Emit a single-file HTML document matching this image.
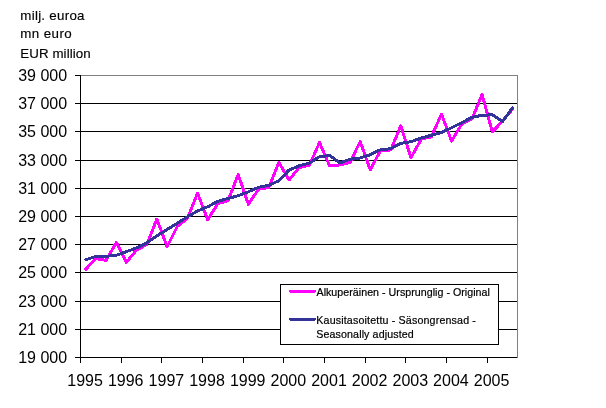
<!DOCTYPE html>
<html><head><meta charset="utf-8"><title>Chart</title>
<style>
html,body{margin:0;padding:0;background:#fff;}
body{width:606px;height:408px;overflow:hidden;}
svg{display:block;}
text{font-family:"Liberation Sans",sans-serif;fill:#000;}
.u{font-size:13.33px;stroke:#000;stroke-width:.15px;}
.a{font-size:16px;}
.l{font-size:10.67px;stroke:#000;stroke-width:.2px;}
</style></head><body>
<svg width="606" height="408" viewBox="0 0 606 408">
<rect width="606" height="408" fill="#fff"/>

<g shape-rendering="crispEdges" fill="none">
<rect x="80.5" y="75.5" width="437" height="282" stroke="#808080" stroke-width="1"/>
<line x1="75" x2="517" y1="103.5" y2="103.5" stroke="#000"/>
<line x1="75" x2="517" y1="131.5" y2="131.5" stroke="#000"/>
<line x1="75" x2="517" y1="160.5" y2="160.5" stroke="#000"/>
<line x1="75" x2="517" y1="188.5" y2="188.5" stroke="#000"/>
<line x1="75" x2="517" y1="216.5" y2="216.5" stroke="#000"/>
<line x1="75" x2="517" y1="244.5" y2="244.5" stroke="#000"/>
<line x1="75" x2="517" y1="272.5" y2="272.5" stroke="#000"/>
<line x1="75" x2="517" y1="301.5" y2="301.5" stroke="#000"/>
<line x1="75" x2="517" y1="329.5" y2="329.5" stroke="#000"/>
<line x1="75" x2="517" y1="357.5" y2="357.5" stroke="#000"/>
<line x1="75" x2="81" y1="75.5" y2="75.5" stroke="#000"/>
<line x1="80.5" x2="80.5" y1="75" y2="363" stroke="#000"/>
<line x1="121.5" x2="121.5" y1="357" y2="363" stroke="#000"/>
<line x1="161.5" x2="161.5" y1="357" y2="363" stroke="#000"/>
<line x1="202.5" x2="202.5" y1="357" y2="363" stroke="#000"/>
<line x1="243.5" x2="243.5" y1="357" y2="363" stroke="#000"/>
<line x1="283.5" x2="283.5" y1="357" y2="363" stroke="#000"/>
<line x1="324.5" x2="324.5" y1="357" y2="363" stroke="#000"/>
<line x1="365.5" x2="365.5" y1="357" y2="363" stroke="#000"/>
<line x1="405.5" x2="405.5" y1="357" y2="363" stroke="#000"/>
<line x1="446.5" x2="446.5" y1="357" y2="363" stroke="#000"/>
<line x1="487.5" x2="487.5" y1="357" y2="363" stroke="#000"/>
</g>
<polyline points="85.8,269.2 95.9,258.7 106.1,260.3 116.3,242.4 126.4,262.3 136.6,250.0 146.8,244.5 156.9,219.0 167.1,246.8 177.2,226.5 187.4,218.5 197.6,193.2 207.7,219.8 217.9,203.5 228.1,200.7 238.2,174.5 248.4,204.3 258.5,189.3 268.7,187.6 278.9,162.3 289.0,180.0 299.2,167.5 309.4,165.3 319.5,142.6 329.7,166.0 339.9,164.9 350.0,162.5 360.2,141.5 370.3,169.9 380.5,150.5 390.7,150.0 400.8,125.9 411.0,157.6 421.2,139.2 431.3,136.8 441.5,114.2 451.6,141.1 461.8,124.0 472.0,119.0 482.1,94.4 492.3,132.0 502.5,121.0 512.6,109.0" fill="none" stroke="#ff00ff" stroke-width="3" stroke-linejoin="round" stroke-linecap="round" shape-rendering="crispEdges"/>
<polyline points="85.8,259.8 95.9,256.3 106.1,256.3 116.3,255.3 126.4,251.7 136.6,247.8 146.8,242.8 156.9,235.8 167.1,229.5 177.2,223.4 187.4,216.8 197.6,211.0 207.7,206.8 217.9,201.3 228.1,198.5 238.2,195.7 248.4,191.8 258.5,187.3 268.7,185.3 278.9,180.8 289.0,170.0 299.2,165.8 309.4,163.0 319.5,156.7 329.7,155.5 339.9,163.0 350.0,159.2 360.2,158.0 370.3,154.7 380.5,149.7 390.7,148.7 400.8,143.3 411.0,141.7 421.2,138.0 431.3,135.3 441.5,132.6 451.6,127.7 461.8,122.7 472.0,117.3 482.1,115.3 492.3,114.8 502.5,121.5 512.6,107.8" fill="none" stroke="#333399" stroke-width="3" stroke-linejoin="round" stroke-linecap="round" shape-rendering="crispEdges"/>
<rect x="280.5" y="284.5" width="218" height="60" fill="#fff" stroke="#000" shape-rendering="crispEdges"/>
<path d="M289 290H316V292H315V293H290V292H289Z" fill="#ff00ff" shape-rendering="crispEdges"/>
<path d="M289 318H316V320H315V321H290V320H289Z" fill="#333399" shape-rendering="crispEdges"/>
<text class="l" x="316.5" y="295.5" textLength="173.4">Alkuperäinen - Ursprunglig - Original</text>
<text class="l" x="316.3" y="323.5" textLength="159.6">Kausitasoitettu - Säsongrensad -</text>
<text class="l" x="316.3" y="337.5" textLength="97.4">Seasonally adjusted</text>
<text class="u" x="20.3" y="19.8" textLength="64.2">milj. euroa</text>
<text class="u" x="20.3" y="37.6" textLength="51.4">mn euro</text>
<text class="u" x="20.2" y="57.6" textLength="70.5">EUR million</text>
<text class="a" x="67.1" y="81" text-anchor="end">39 000</text>
<text class="a" x="67.1" y="109" text-anchor="end">37 000</text>
<text class="a" x="67.1" y="137" text-anchor="end">35 000</text>
<text class="a" x="67.1" y="166" text-anchor="end">33 000</text>
<text class="a" x="67.1" y="194" text-anchor="end">31 000</text>
<text class="a" x="67.1" y="222" text-anchor="end">29 000</text>
<text class="a" x="67.1" y="250" text-anchor="end">27 000</text>
<text class="a" x="67.1" y="278" text-anchor="end">25 000</text>
<text class="a" x="67.1" y="307" text-anchor="end">23 000</text>
<text class="a" x="67.1" y="335" text-anchor="end">21 000</text>
<text class="a" x="67.1" y="363" text-anchor="end">19 000</text>
<text class="a" x="85.1" y="386" text-anchor="middle">1995</text>
<text class="a" x="125.7" y="386" text-anchor="middle">1996</text>
<text class="a" x="166.4" y="386" text-anchor="middle">1997</text>
<text class="a" x="207.0" y="386" text-anchor="middle">1998</text>
<text class="a" x="247.7" y="386" text-anchor="middle">1999</text>
<text class="a" x="288.3" y="386" text-anchor="middle">2000</text>
<text class="a" x="329.0" y="386" text-anchor="middle">2001</text>
<text class="a" x="369.6" y="386" text-anchor="middle">2002</text>
<text class="a" x="410.3" y="386" text-anchor="middle">2003</text>
<text class="a" x="450.9" y="386" text-anchor="middle">2004</text>
<text class="a" x="491.6" y="386" text-anchor="middle">2005</text>
</svg></body></html>
